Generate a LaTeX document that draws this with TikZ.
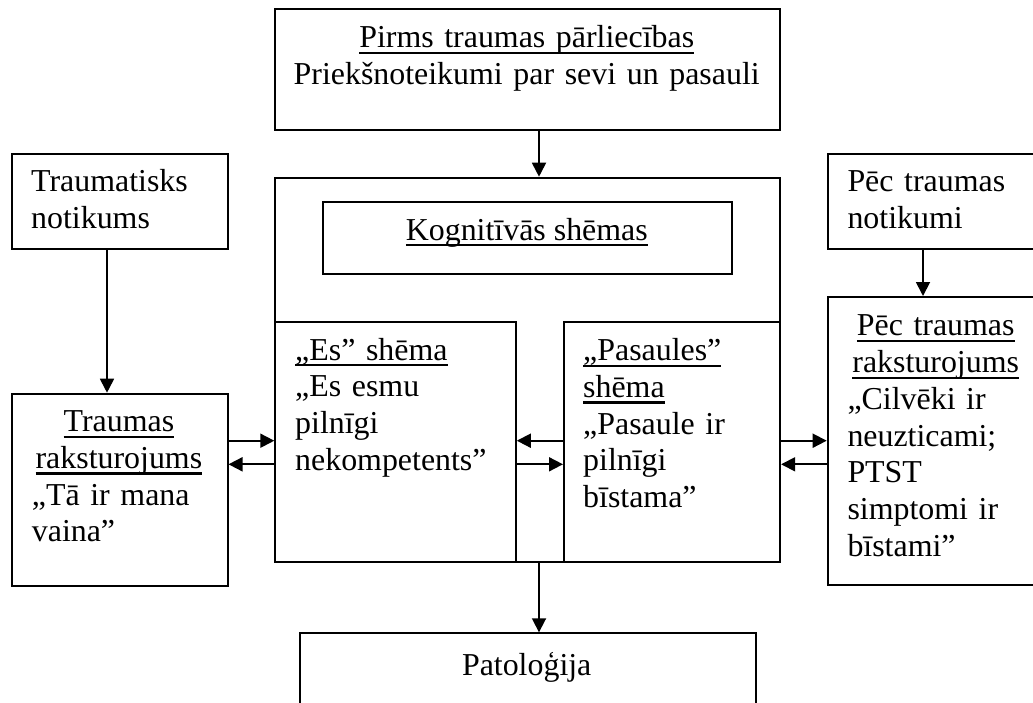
\documentclass[tikz,border=0pt]{standalone}
\usepackage{fontspec}
\setmainfont{Liberation Serif}
\usetikzlibrary{arrows.meta}
\newsavebox\ulbox
\newcommand\uln[1]{\leavevmode\sbox\ulbox{#1}\rlap{\rule[-0.2em]{\wd\ulbox}{0.07em}}\usebox\ulbox}
\begin{document}
\begin{tikzpicture}[x=1pt,y=-1pt,
  box/.style={draw, line width=1.8pt, inner sep=0pt, anchor=north west},
  txt/.style={inner sep=0pt, font=\fontsize{31.9}{36.8}\selectfont},
  arr/.style={line width=1.8pt, -{Triangle[length=14pt,width=14pt]}}]
\useasboundingbox (0,0) rectangle (1033,702);
\fill[white] (0,0) rectangle (1033,702);
\clip (0,0) rectangle (1033,702);
% boxes
\node[box, minimum width=505pt, minimum height=120.4pt] (pre) at (274.3,8.3) {};
\node[box, minimum width=216.6pt, minimum height=95.6pt] (ev) at (10.7,152.7) {};
\node[box, minimum width=505pt, minimum height=384pt] (cog) at (274.3,176.7) {};
\node[box, minimum width=409pt, minimum height=72pt] (cogt) at (322.3,200.7) {};
\node[box, minimum width=240.7pt, minimum height=240pt] (es) at (274.3,320.7) {};
\node[box, minimum width=216.3pt, minimum height=240pt] (pas) at (563,320.7) {};
\node[box, minimum width=216.8pt, minimum height=95.6pt] (postev) at (826.7,152.7) {};
\node[box, minimum width=216pt, minimum height=192.3pt] (tr) at (10.7,392.7) {};
\node[box, minimum width=216.8pt, minimum height=288.3pt] (post) at (826.7,296) {};
\node[box, minimum width=456pt, minimum height=120pt] (pat) at (298.7,632.3) {};
% texts
\node[txt, text width=480pt, align=center, anchor=base] (pret) at (526.7,47.7)
  {\uln{Pirms traumas pārliecības}\\Priekšnoteikumi par sevi un pasauli};
\node[txt, text width=190pt, align=left, anchor=base west] (evt) at (31,191.7)
  {Traumatisks\\notikums};
\node[txt, anchor=base] (cogtt) at (526.8,240) {\uln{Kognitīvās shēmas}};
\node[txt, text width=190pt, align=left, anchor=base west] (postevt) at (847.3,191.7)
  {Pēc traumas\\notikumi};
\node[txt, text width=174pt, align=left, anchor=base west] (trt) at (31.7,431.5)
  {{\centering\uln{Traumas}\\\uln{raksturojums}\par}„Tā ir mana\\vaina”};
\node[txt, text width=215pt, align=left, anchor=base west] (est) at (295,360)
  {\uln{„Es” shēma}\\„Es esmu\\pilnīgi\\nekompetents”};
\node[txt, text width=190pt, align=left, anchor=base west] (past) at (583,360.5)
  {\uln{„Pasaules”}\\\uln{shēma}\\„Pasaule ir\\pilnīgi\\bīstama”};
\node[txt, text width=176.4pt, align=left, anchor=base west] (postt) at (847.3,335.7)
  {{\centering\uln{Pēc traumas}\\\uln{raksturojums}\par}„Cilvēki ir\\neuzticami;\\PTST\\simptomi ir\\bīstami”};
\node[txt, anchor=base] (patt) at (526.7,675) {Patoloģija};
% connectors
\coordinate (xa) at (539,0);
\coordinate (xb) at (107,0);
\coordinate (xc) at (923,0);
\coordinate (ya) at (0,440.7);
\coordinate (yb) at (0,464.3);
\draw[arr] (pre.south -| xa) -- (cog.north -| xa);
\draw[arr] (ev.south -| xb) -- (tr.north -| xb);
\draw[arr] (postev.south -| xc) -- (post.north -| xc);
\draw[arr] (cog.south -| xa) -- (pat.north -| xa);
\draw[arr] (tr.east |- ya) -- (es.west |- ya);
\draw[arr] (es.west |- yb) -- (tr.east |- yb);
\draw[arr] (pas.west |- ya) -- (es.east |- ya);
\draw[arr] (es.east |- yb) -- (pas.west |- yb);
\draw[arr] (pas.east |- ya) -- (post.west |- ya);
\draw[arr] (post.west |- yb) -- (pas.east |- yb);
\end{tikzpicture}
\end{document}
